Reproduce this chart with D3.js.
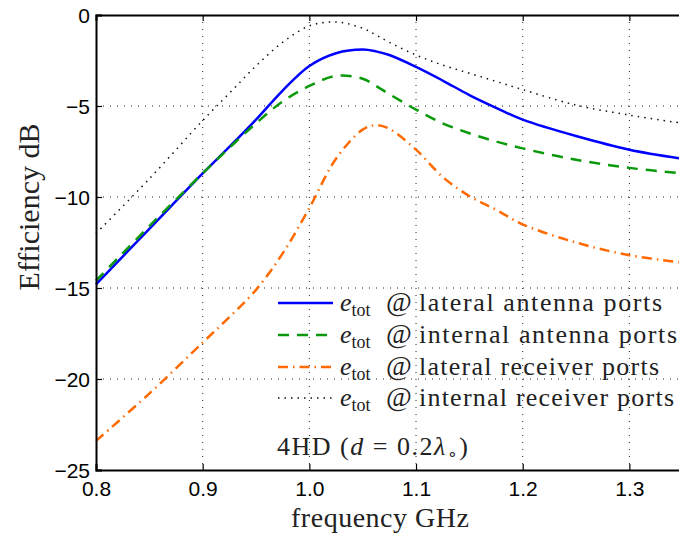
<!DOCTYPE html>
<html>
<head>
<meta charset="utf-8">
<script src="https://cdn.jsdelivr.net/npm/d3@7"></script>
<style>
  body { margin: 0; background: #fff; }
  svg { display: block; }
</style>
</head>
<body>
<div id="chart"></div>
<script>
// frequency samples (GHz) and efficiency curves (dB)
const freq = [0.8, 0.85, 0.9, 0.925, 0.95, 0.975, 1.0, 1.025, 1.05, 1.0625, 1.075, 1.1, 1.125, 1.15, 1.175, 1.2, 1.25, 1.3, 1.35];
const lateralAntenna  = [-14.8, -11.75, -8.7, -7.25, -5.75, -4.15, -2.8, -2.1, -1.9, -2.0, -2.2, -2.85, -3.6, -4.4, -5.1, -5.75, -6.65, -7.4, -7.9];
const internalAntenna = [-14.6, -11.6, -8.7, -7.3, -5.95, -4.75, -3.9, -3.35, -3.5, -3.9, -4.35, -5.2, -5.95, -6.5, -6.95, -7.33, -7.95, -8.4, -8.7];
const lateralReceiver = [-23.4, -20.8, -18.0, -16.6, -15.1, -13.1, -10.6, -7.9, -6.3, -6.05, -6.25, -7.4, -8.9, -9.95, -10.7, -11.5, -12.5, -13.2, -13.6];
const internalReceiver = [-12.0, -9.0, -5.8, -4.3, -2.8, -1.5, -0.6, -0.38, -0.73, -1.1, -1.5, -2.2, -2.75, -3.2, -3.65, -4.1, -4.95, -5.5, -5.95];

const xTicks = [0.8, 0.9, 1.0, 1.1, 1.2, 1.3];
const yTicks = [0, -5, -10, -15, -20, -25];
const seriesNames = ["lateral antenna ports", "internal antenna ports", "lateral receiver ports", "internal receiver ports"];
const nameWidths = [243, 258, 240, 255];

const width = 679, height = 534;
const margin = { top: 15, left: 96, bottom: 64 };
const plotRight = 682.7;
const serif = "'Liberation Serif', 'Times New Roman', serif";

const svg = d3.select("#chart").append("svg")
    .attr("width", width)
    .attr("height", height);

const x = d3.scaleLinear().domain([0.8, 1.35]).range([margin.left, plotRight]);
const y = d3.scaleLinear().domain([-25, 0]).range([height - margin.bottom, margin.top]);

// grid
const grid = svg.append("g");
grid.selectAll(".vg")
    .data(xTicks.slice(1))
    .enter().append("line")
    .attr("x1", d => x(d)).attr("x2", d => x(d))
    .attr("y1", y(0)).attr("y2", y(-25))
    .attr("stroke", "#222").attr("stroke-width", 1)
    .attr("stroke-dasharray", "1,6");
grid.selectAll(".hg")
    .data(yTicks.slice(1, -1))
    .enter().append("line")
    .attr("x1", x(0.8)).attr("x2", plotRight)
    .attr("y1", d => y(d)).attr("y2", d => y(d))
    .attr("stroke", "#222").attr("stroke-width", 1)
    .attr("stroke-dasharray", "1,6");

// curves
const series = [
    { vals: lateralAntenna,   color: "#0000ff", dash: null,          w: 2.5 },
    { vals: internalAntenna,  color: "#0a990a", dash: "11,8",        w: 2.5 },
    { vals: lateralReceiver,  color: "#ff6a00", dash: "10,5,1.5,5",  w: 2.5 },
    { vals: internalReceiver, color: "#111",    dash: "1.5,5",       w: 1.5 }
];

const line = d3.line()
    .x(d => x(d[0]))
    .y(d => y(d[1]))
    .curve(d3.curveCatmullRom.alpha(0.5));

svg.append("g").selectAll("path")
    .data(series)
    .enter().append("path")
    .attr("d", s => line(freq.map((f, i) => [f, s.vals[i]])))
    .attr("fill", "none")
    .attr("stroke", s => s.color)
    .attr("stroke-width", s => s.w)
    .attr("stroke-dasharray", s => s.dash);

// axes
const xAxis = d3.axisBottom(x).tickValues(xTicks).tickSize(-6).tickPadding(11)
    .tickFormat(d3.format(".1f"));
const gx = svg.append("g").attr("transform", `translate(0,${y(-25)})`).call(xAxis);
const xTop = d3.axisTop(x).tickValues(xTicks).tickSize(-6).tickFormat("");
const gxt = svg.append("g").attr("transform", `translate(0,${y(0)})`).call(xTop);
const yAxis = d3.axisLeft(y).tickValues(yTicks).tickSize(-6).tickPadding(6)
    .tickFormat(d => d === 0 ? "0" : "\u2212" + Math.abs(d));
const gy = svg.append("g").attr("transform", `translate(${x(0.8)},0)`).call(yAxis);

[gx, gxt, gy].forEach(g => {
    g.select(".domain").attr("stroke", "#000").attr("stroke-width", 2);
    g.selectAll(".tick line").attr("stroke", "#000").attr("stroke-width", 1.2);
    g.selectAll("text")
        .attr("fill", "#000")
        .style("font-family", "'Liberation Sans', Arial, sans-serif")
        .style("font-size", "21px");
});
gy.selectAll("text").attr("dy", "0.36em");

// axis labels
svg.append("text")
    .attr("x", 380).attr("y", 527)
    .attr("text-anchor", "middle")
    .style("font-family", serif)
    .style("font-size", "28px")
    .attr("fill", "#222")
    .attr("textLength", 178)
    .text("frequency GHz");

svg.append("text")
    .attr("transform", "translate(39,207) rotate(-90)")
    .attr("text-anchor", "middle")
    .style("font-family", serif)
    .style("font-size", "30px")
    .attr("fill", "#222")
    .text("Efficiency dB");

// legend
const legend = svg.append("g").attr("fill", "#222");
const rowY = [303, 335, 367, 398];
series.forEach((s, i) => {
    legend.append("line")
        .attr("x1", 278).attr("x2", 333)
        .attr("y1", rowY[i]).attr("y2", rowY[i])
        .attr("stroke", s.color)
        .attr("stroke-width", s.w)
        .attr("stroke-dasharray", s.dash);
    const t = legend.append("text")
        .attr("x", 340).attr("y", rowY[i] + 8)
        .style("font-family", serif)
        .style("font-size", "26px");
    t.append("tspan").style("font-style", "italic").text("e");
    t.append("tspan").attr("dy", 5).style("font-size", "18px").text("tot");
    t.append("tspan").attr("dy", -5).attr("x", 386).style("font-size", "28px").text("@");
    legend.append("text")
        .attr("x", 419).attr("y", rowY[i] + 8)
        .style("font-family", serif)
        .style("font-size", "26px")
        .attr("textLength", nameWidths[i])
        .attr("lengthAdjust", "spacing")
        .text(seriesNames[i]);
});

const note = legend.append("text")
    .attr("x", 277).attr("y", 455)
    .style("font-family", serif)
    .style("font-size", "26px")
    .style("letter-spacing", "1.5px");
note.append("tspan").text("4HD (");
note.append("tspan").style("font-style", "italic").text("d");
note.append("tspan").text(" = 0.2");
note.append("tspan").style("font-style", "italic").text("\u03bb");
note.append("tspan").attr("dy", 4).style("font-size", "17px").text("\u2218");
note.append("tspan").attr("dy", -4).text(")");
</script>
</body>
</html>
